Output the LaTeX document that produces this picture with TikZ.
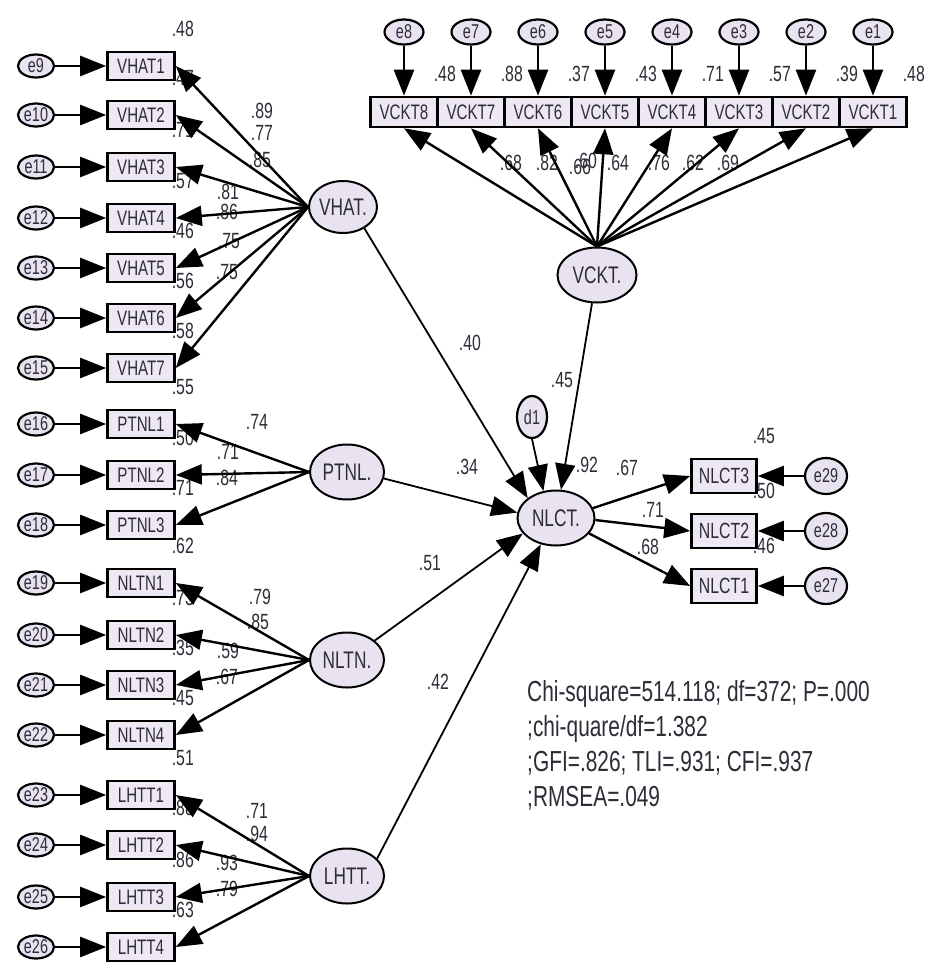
\documentclass[tikz,border=0pt]{standalone}
\usepackage{fontspec}
\setmainfont[FakeStretch=0.72]{Liberation Sans}
\usetikzlibrary{arrows.meta,positioning,shapes.geometric}

\definecolor{latfill}{RGB}{233,227,241}
\definecolor{obsfill}{RGB}{238,232,244}
\definecolor{inkgray}{RGB}{45,45,55}

\begin{document}
\begin{tikzpicture}[x=1pt, y=-1pt,
    font={\fontsize{21}{25}\selectfont},
    obs/.style={draw, line width=2.6pt, fill=obsfill, minimum width=67pt, minimum height=28pt, inner sep=0pt, text=inkgray},
    lat/.style={ellipse, draw, line width=2pt, fill=latfill, minimum width=74pt, minimum height=55pt, inner sep=0pt, text=inkgray, font={\fontsize{24}{28}\selectfont}},
    err/.style={ellipse, draw, line width=2.2pt, fill=latfill, minimum width=36pt, minimum height=23pt, inner sep=0pt, text=inkgray, font={\fontsize{20}{22}\selectfont}},
    num/.style={text=inkgray, inner sep=0pt, font={\fontsize{22}{24}\selectfont}},
    arr/.style={-{Triangle[length=26pt,width=20pt]}, line width=2.4pt},
    reg/.style={-{Triangle[length=26pt,width=20pt]}, line width=1.8pt}
  ]
  \useasboundingbox[fill=white] (0,0) rectangle (946,975);

  % latent variables
  \node[lat, minimum width=68pt, minimum height=52pt] (vhat) at (343,207) {VHAT.};
  \node[lat] (ptnl) at (347,472) {PTNL.};
  \node[lat] (nltn) at (347,660) {NLTN.};
  \node[lat] (lhtt) at (347,876) {LHTT.};
  \node[lat, minimum width=79pt] (vckt) at (597,275) {VCKT.};
  \node[lat, minimum width=77pt] (nlct) at (556,518) {NLCT.};
  \node[err, minimum width=30pt, minimum height=42pt] (d1) at (532,417) {d1};

  % left column indicators
  \foreach \i/\y/\en/\r in {1/66/9/.48, 2/115/10/.47, 3/167/11/.71, 4/218/12/.57, 5/268/13/.46, 6/318/14/.56, 7/368/15/.58} {
    \node[obs] (vhat\i) at (141,\y) {VHAT\i};
    \node[err] (e\en) at (36,\y) {e\en};
    \node[num] (rh\i) at ([xshift=7pt,yshift=22pt]vhat\i.north east) {\r};
    \draw[arr] (e\en) -- (vhat\i);
  }
  \foreach \i/\y/\en/\r in {1/424/16/.55, 2/475/17/.50, 3/525/18/.71} {
    \node[obs] (ptnl\i) at (141,\y) {PTNL\i};
    \node[err] (e\en) at (36,\y) {e\en};
    \node[num] (rp\i) at ([xshift=7pt,yshift=22pt]ptnl\i.north east) {\r};
    \draw[arr] (e\en) -- (ptnl\i);
  }
  \foreach \i/\y/\en/\r in {1/583/19/.62, 2/635/20/.73, 3/685/21/.35, 4/735/22/.45} {
    \node[obs] (nltn\i) at (141,\y) {NLTN\i};
    \node[err] (e\en) at (36,\y) {e\en};
    \node[num] (rn\i) at ([xshift=7pt,yshift=22pt]nltn\i.north east) {\r};
    \draw[arr] (e\en) -- (nltn\i);
  }
  \foreach \i/\y/\en/\r in {1/795/23/.51, 2/845/24/.88, 3/897/25/.86, 4/947/26/.63} {
    \node[obs] (lhtt\i) at (141,\y) {LHTT\i};
    \node[err] (e\en) at (36,\y) {e\en};
    \node[num] (rl\i) at ([xshift=7pt,yshift=22pt]lhtt\i.north east) {\r};
    \draw[arr] (e\en) -- (lhtt\i);
  }

  % top row
  \foreach \k/\r in {1/.48, 2/.39, 3/.57, 4/.71, 5/.43, 6/.37, 7/.88, 8/.48} {
    \node[obs, minimum height=30pt] (vckt\k) at ({873-67*(\k-1)},112) {VCKT\k};
    \node[err, minimum width=39pt, minimum height=25pt] (e\k) at ({873-67*(\k-1)},32) {e\k};
    \node[num] (rv\k) at ([xshift=6pt,yshift=22pt]vckt\k.north east) {\r};
    \draw[arr] (e\k) -- (vckt\k);
  }

  % right block
  \foreach \i/\y/\en/\r in {3/476/29/.45, 2/531/28/.50, 1/586/27/.46} {
    \node[obs, minimum width=65pt, minimum height=34pt, font={\fontsize{22}{26}\selectfont}] (nlct\i) at (724,\y) {NLCT\i};
    \node[err, minimum width=42pt, minimum height=36pt] (e\en) at (826,\y) {e\en};
    \node[num] (rc\i) at ([xshift=6pt,yshift=22pt]nlct\i.north east) {\r};
    \draw[arr] (e\en) -- (nlct\i);
  }

  % loadings and paths
  \foreach \x/\y/\v [count=\k] in {262/111/.89, 262/133/.77, 260/160/.85, 228/192/.81, 227/212/.86, 229/241/.75, 227/272/.75,
      257/422/.74, 228/452/.71, 227/478/.84, 260/597/.79, 258/622/.85, 228/651/.59, 227/677/.67,
      257/811/.71, 257/834/.94, 227/863/.93, 227/889/.79,
      511/163/.68, 547/163/.82, 580/167/.66, 586/161/.60, 618/163/.64, 659/163/.76, 693/163/.62, 728/163/.69,
      627/468/.67, 653/510/.71, 648/547/.68,
      470/343/.40, 467/467/.34, 430/563/.51, 438/682/.42, 562/380/.45, 587/465/.92}
    \node[num] (w\k) at (\x,\y) {\v};

  \foreach \i in {1,...,7} \draw[arr] (vhat.west) -- (vhat\i.east);
  \foreach \i in {1,...,3} \draw[arr] (ptnl.west) -- (ptnl\i.east);
  \foreach \i in {1,...,4} \draw[arr] (nltn.west) -- (nltn\i.east);
  \foreach \i in {1,...,4} \draw[arr] (lhtt.west) -- (lhtt\i.east);
  \foreach \k in {1,...,8} \draw[arr] (vckt.north) -- (vckt\k.south);

  \draw[reg] (vhat.-45) -- (nlct.145);
  \draw[reg] (vckt.-100) -- (nlct.80);
  \draw[reg] (ptnl.-10) -- (nlct.172);
  \draw[reg] (nltn.35) -- (nlct.205);
  \draw[reg] (lhtt.30) -- (nlct.240);
  \draw[reg] (d1.south) -- (nlct.115);
  \draw[arr] (nlct.15) -- (nlct3.west);
  \draw[arr] (nlct.-3) -- (nlct2.west);
  \draw[arr] (nlct.-25) -- (nlct1.west);

  \node[anchor=north west, align=left, inner sep=0pt, text=inkgray, font={\fontsize{29}{35}\selectfont}] (fit) at (527,680)
    {Chi-square=514.118; df=372; P=.000\\;chi-quare/df=1.382\\;GFI=.826; TLI=.931; CFI=.937\\;RMSEA=.049};
\end{tikzpicture}
\end{document}
